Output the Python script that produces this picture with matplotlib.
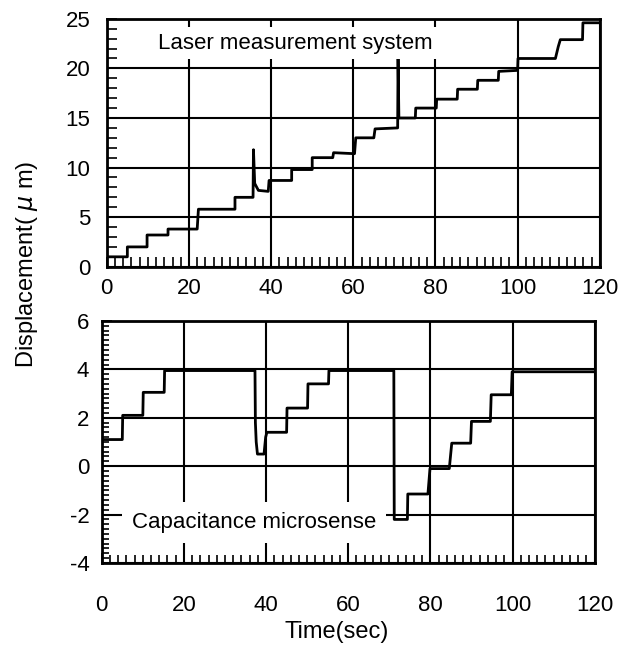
import numpy as np
from matplotlib import pyplot as plt
from matplotlib.ticker import MultipleLocator

plt.rcParams['font.family'] = ['Liberation Sans', 'DejaVu Sans']
plt.rcParams['axes.unicode_minus'] = False

# laser measurement system (um) vs time (sec)
laser_t = [0, 5, 5, 9.8, 9.8, 14.9, 14.9, 22.0, 22.3, 31.2, 31.2, 35.6, 35.7, 36.0, 36.9, 39.3,
           39.5, 45.0, 45.0, 50.0, 50.0, 55.0, 55.2, 60.3, 60.6, 65.0, 65.3, 70.8, 70.9, 71.1,
           75.1, 75.2, 80.2, 80.3, 85.3, 85.4, 90.2, 90.3, 95.3, 95.4, 100.0, 100.1, 109.2,
           109.9, 110.4, 115.8, 115.9, 120]
laser_d = [1.0, 1.0, 2.0, 2.0, 3.2, 3.2, 3.8, 3.8, 5.8, 5.8, 7.0, 7.0, 11.8, 8.4, 7.7, 7.6,
           8.7, 8.7, 9.8, 9.8, 11.0, 11.0, 11.5, 11.4, 13.0, 13.0, 13.9, 14.0, 21.0, 15.0,
           15.0, 16.0, 16.0, 16.9, 16.9, 17.9, 17.9, 18.8, 18.8, 19.7, 19.8, 21.0, 21.0,
           22.2, 22.9, 22.9, 24.6, 24.6]

# capacitance microsense (um) vs time (sec)
cap_t = [0, 5.0, 5.1, 10.0, 10.1, 15.2, 15.3, 37.3, 37.4, 37.6, 37.9, 39.5, 39.9, 40.2, 45.0,
         45.1, 50.1, 50.2, 55.2, 55.3, 71.1, 71.2, 74.4, 74.5, 79.4, 79.9, 84.6, 85.2, 89.8,
         90.0, 94.6, 94.8, 99.7, 99.9, 120]
cap_d = [1.1, 1.1, 2.1, 2.1, 3.05, 3.05, 3.95, 3.95, 1.8, 1.0, 0.5, 0.5, 1.2, 1.4, 1.4,
         2.4, 2.4, 3.4, 3.4, 3.95, 3.95, -2.2, -2.2, -1.15, -1.15, -0.1, -0.1, 0.95, 0.95,
         1.85, 1.85, 2.95, 2.95, 3.9, 3.9]

fig = plt.figure(figsize=(6.32, 6.49), dpi=100)
ax1 = fig.add_axes([0.169, 0.589, 0.780, 0.382])
ax2 = fig.add_axes([0.161, 0.1325, 0.780, 0.373])

for ax in (ax1, ax2):
    ax.set_xlim(0, 120)
    ax.xaxis.set_major_locator(MultipleLocator(20))
    ax.xaxis.set_minor_locator(MultipleLocator(2))
    ax.grid(True, which='major', color='black', lw=1.5)
    for s in ax.spines.values():
        s.set_linewidth(2)
        s.set_color('black')
    ax.tick_params(which='both', direction='in', top=False, right=False,
                   labelsize=16, color='black', width=1.2)
    ax.tick_params(which='major', length=7)

ax1.plot(laser_t, laser_d, color='black', lw=2, zorder=3)
ax1.set_ylim(0, 25)
ax1.yaxis.set_major_locator(MultipleLocator(5))
ax1.yaxis.set_minor_locator(MultipleLocator(1))
ax1.tick_params(which='minor', length=7)
ax1.tick_params(axis='x', pad=8)
ax1.tick_params(axis='y', pad=12)
ax1.text(12.4, 22.0, 'Laser measurement system', fontsize=16, va='baseline', ha='left',
         zorder=5, bbox=dict(boxstyle='square,pad=0.25', fc='white', ec='none'))

ax2.plot(cap_t, cap_d, color='black', lw=2, zorder=3)
ax2.set_ylim(-4, 6)
ax2.yaxis.set_major_locator(MultipleLocator(2))
ax2.yaxis.set_minor_locator(MultipleLocator(0.2))
ax2.tick_params(axis='x', which='minor', length=6)
ax2.tick_params(axis='y', which='minor', length=5)
ax2.tick_params(axis='x', pad=23)
ax2.tick_params(axis='y', pad=9)
ax2.text(7.4, -2.55, 'Capacitance microsense', fontsize=16, va='baseline', ha='left',
         zorder=5, bbox=dict(boxstyle='square,pad=0.45', fc='white', ec='none'))

fig.text(0.043, 0.592, 'Displacement( $\\mu$ m)', rotation=90, fontsize=17,
         ha='center', va='center')
fig.text(0.532, 0.026, 'Time(sec)', fontsize=17, ha='center', va='center')

plt.savefig('out.png', dpi=100)
